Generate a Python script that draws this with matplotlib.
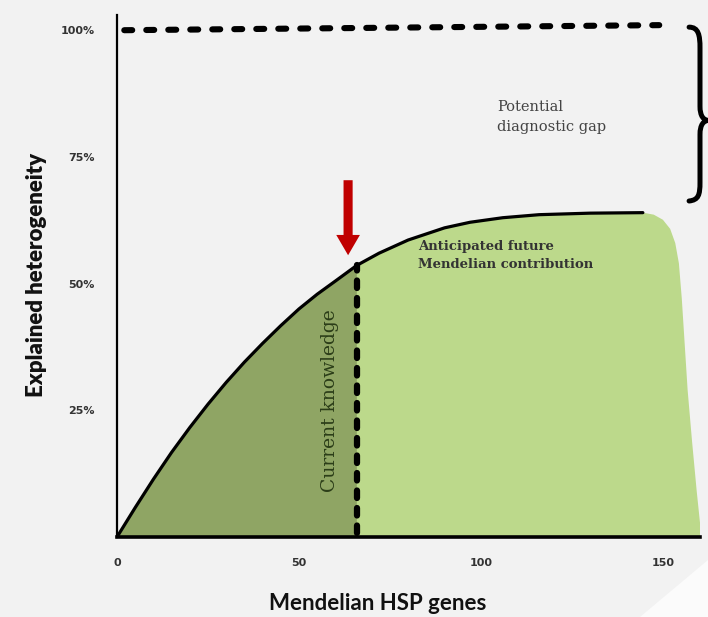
import numpy as np
import matplotlib
matplotlib.use("Agg")
import matplotlib.pyplot as plt
from matplotlib.path import Path
from matplotlib.patches import PathPatch, Polygon

## Values
curve_x = [0, 5, 10, 15, 20, 25, 30, 35, 40, 45, 50, 55, 60, 65.9,
           72, 80, 90, 97, 106, 116, 130, 144.5]
curve_y = [0, 5.8, 11.4, 16.7, 21.6, 26.2, 30.5, 34.5, 38.2, 41.7, 45.0, 47.9, 50.5, 53.6,
           56.0, 58.6, 61.0, 62.1, 63.0, 63.6, 63.9, 64.0]
current_x = 65.9          # end of current knowledge
edge_x = [147.5, 150.0, 152.0, 153.4, 154.4, 155.2, 156.0, 156.8, 158.0, 159.3, 160.2, 160.2]
edge_y = [63.6, 62.6, 60.8, 58.0, 54.0, 47.0, 38.0, 29.0, 19.0, 9.0, 2.8, 0.0]
top_x = [2, 149]
top_y = [100, 101]
arrow_x = 63.5
arrow_y = [70.4, 55.6]

x_ticks = [0, 50, 100, 150]
y_ticks = [25, 50, 75, 100]
y_ticklabels = ['25%', '50%', '75%', '100%']

bg = '#f2f2f2'
dark_green = '#8fa564'
light_green = '#bcd98b'

fig = plt.figure(figsize=(7.08, 6.17), dpi=100, facecolor=bg)
# lighter corner bottom right
fig.patches.append(Polygon([[1.0, 57 / 617], [1.0, 0], [640 / 708, 0]], closed=True,
                           transform=fig.transFigure, facecolor='#fbfbfb', edgecolor='none'))
ax = fig.add_axes([117 / 708, 80 / 617, 583 / 708, 522 / 617])
ax.set_facecolor('none')
ax.set_xlim(0, 160.2)
ax.set_ylim(0, 103)

cx = np.array(curve_x)
cy = np.array(curve_y)
k = cx <= current_x
j = cx >= current_x

## dark fill: current knowledge
ax.fill_between(cx[k], 0, cy[k], color=dark_green, lw=0, zorder=1)

## light fill: anticipated contribution
lx = np.concatenate([cx[j], edge_x, [current_x]])
ly = np.concatenate([cy[j], edge_y, [0]])
ax.fill(lx, ly, color=light_green, lw=0, zorder=1)

## the curve
ax.plot(cx, cy, color='black', lw=2.3, solid_capstyle='round', solid_joinstyle='round',
        zorder=3)

## dashed lines
ax.plot([current_x, current_x], [0.8, cy[cx == current_x][0]], color='black', lw=4.5,
        linestyle=(0, (1.2, 1.6)), dash_capstyle='round', zorder=3)
ax.plot(top_x, top_y, color='black', lw=4.4,
        linestyle=(0, (1.3, 2.3)), dash_capstyle='round', zorder=3)

## red arrow
ax.arrow(arrow_x, arrow_y[0], 0, arrow_y[1] - arrow_y[0], width=2.5, head_width=6.5,
         head_length=4.0, length_includes_head=True, color='#c00000', lw=0, zorder=4)

## brace for the diagnostic gap
verts = [(157.2, 100.6),
         (159.8, 100.6), (160.2, 99.0), (160.2, 96.5),
         (160.2, 85.0),
         (160.2, 83.0), (161.2, 82.3), (162.4, 82.2),
         (161.2, 82.1), (160.2, 81.4), (160.2, 79.4),
         (160.2, 70.0),
         (160.2, 67.5), (159.8, 66.5), (157.2, 66.3)]
codes = [Path.MOVETO] + [Path.CURVE4] * 3 + [Path.LINETO] + [Path.CURVE4] * 6 + \
        [Path.LINETO] + [Path.CURVE4] * 3
ax.add_patch(PathPatch(Path(verts, codes), facecolor='none', edgecolor='black',
                       lw=3.6, capstyle='round', clip_on=False, zorder=4))

## texts
ax.text(104.4, 82.8, 'Potential\ndiagnostic gap', family='DejaVu Serif', fontsize=10.5,
        color='#444444', ha='left', va='center', linespacing=1.55)
ax.text(82.7, 55.5, 'Anticipated future\nMendelian contribution', family='DejaVu Serif',
        fontsize=9.5, fontweight='bold', color='#333333', ha='left', va='center',
        linespacing=1.45)
ax.text(58.5, 27, 'Current knowledge', family='DejaVu Serif', fontsize=13.5,
        color='#2b3d18', rotation=90, ha='center', va='center')

## axes
for s in ['top', 'right']:
    ax.spines[s].set_visible(False)
ax.spines['left'].set_linewidth(1.6)
ax.spines['bottom'].set_linewidth(2.6)
ax.set_xticks(x_ticks)
ax.set_yticks(y_ticks)
ax.set_yticklabels(y_ticklabels)
ax.tick_params(length=0, labelsize=8, labelcolor='#333333')
ax.tick_params(axis='x', pad=15)
ax.tick_params(axis='y', pad=16)
for t in ax.get_xticklabels() + ax.get_yticklabels():
    t.set_fontweight('bold')

ax.set_xlabel('Mendelian HSP genes', family='Lato', fontsize=16, fontweight='bold',
              color='#111111')
ax.xaxis.set_label_coords((378 - 117) / 583, -56 / 522)
ax.set_ylabel('Explained heterogeneity', family='Lato', fontsize=16, fontweight='heavy',
              color='#111111')
ax.yaxis.set_label_coords(-70 / 583, (537 - 275) / 522)

plt.savefig('out.png', dpi=100, facecolor=bg)
